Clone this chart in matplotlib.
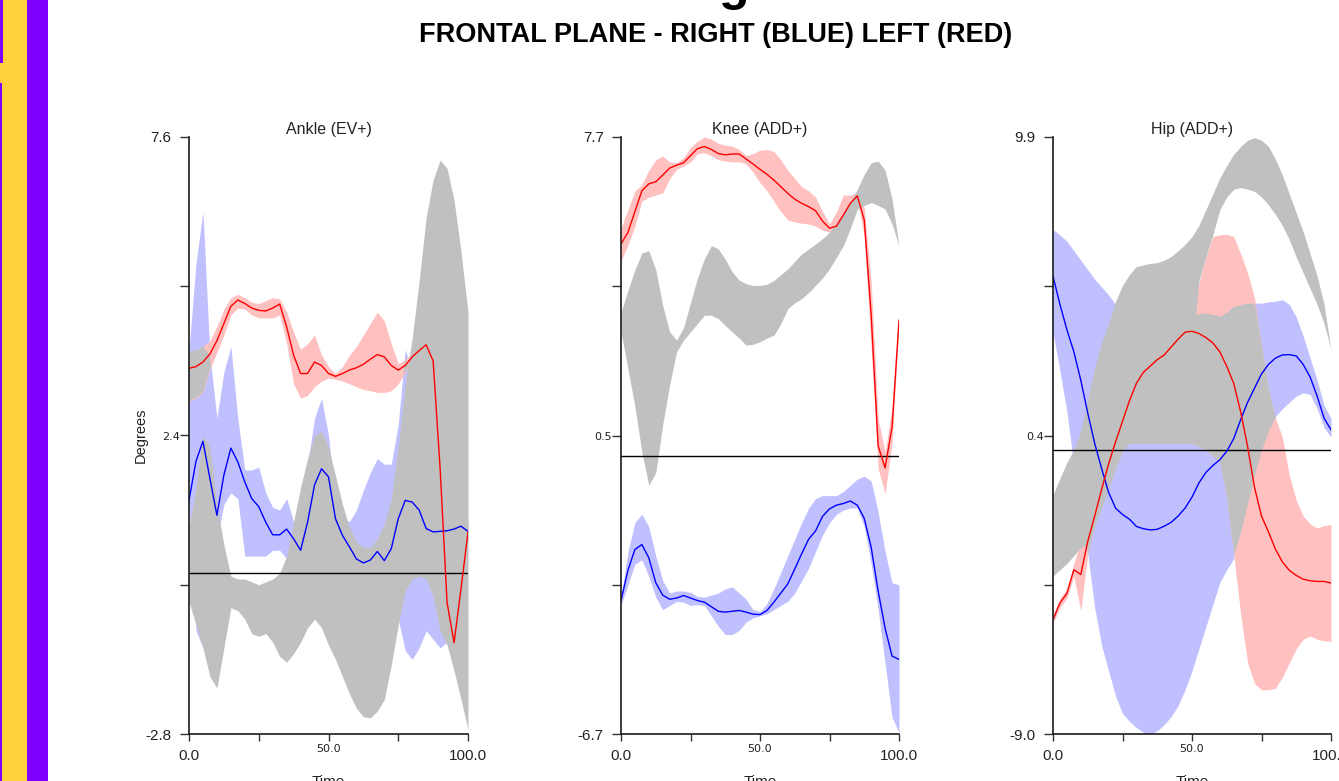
import numpy as np
import matplotlib
matplotlib.use('Agg')
import matplotlib.pyplot as plt
from matplotlib.patches import Rectangle

plt.rcParams['font.family'] = ['Liberation Sans', 'DejaVu Sans']

# % of gait cycle, sampled every 2.5 %
time = np.arange(0, 100.1, 2.5)

# ---------------- Ankle (EV+) ----------------
ankle_ylim = (-2.8, 7.6)
ankle_ylabels = ['-2.8', '2.4', '7.6']
ankle_right_mean = [1.27, 1.95, 2.30, 1.65, 1.01, 1.71, 2.18, 1.94, 1.59, 1.30,
                    1.16, 0.89, 0.67, 0.67, 0.77, 0.60, 0.40, 0.89, 1.54, 1.82,
                    1.68, 0.95, 0.66, 0.46, 0.25, 0.18, 0.23, 0.38, 0.22, 0.43,
                    0.95, 1.27, 1.24, 1.10, 0.78, 0.72, 0.73, 0.74, 0.77, 0.82,
                    0.73]
ankle_right_lo = [1.2, -1.0, -1.3, 0.6, 0.6, 1.2, 1.4, 1.3, 0.3, 0.3,
                  0.3, 0.3, 0.4, 0.4, 0.25, 0.0, -0.2, 0.2, 0.8, 1.2,
                  1.0, 0.5, 0.2, 0.1, -0.1, -0.1, 0.0, 0.05, -0.1, -0.4,
                  -0.8, -1.35, -1.5, -1.3, -1.0, -1.15, -1.3, -1.2, 0.3, 0.5,
                  0.55]
ankle_right_hi = [3.9, 5.4, 6.3, 3.8, 2.7, 3.5, 3.95, 2.7, 1.8, 1.8,
                  1.85, 1.4, 1.15, 1.1, 1.3, 0.9, 0.9, 1.9, 2.7, 3.05,
                  2.4, 1.3, 0.95, 0.9, 1.1, 1.45, 1.75, 2.0, 1.9, 1.9,
                  2.6, 3.9, 3.5, 3.0, 2.5, 2.0, 1.5, 1.2, 1.0, 1.0,
                  0.9]
ankle_left_mean = [3.57, 3.60, 3.68, 3.82, 4.05, 4.35, 4.65, 4.76, 4.70, 4.62,
                   4.58, 4.57, 4.62, 4.69, 4.29, 3.80, 3.48, 3.48, 3.68, 3.62,
                   3.48, 3.43, 3.48, 3.54, 3.58, 3.64, 3.73, 3.81, 3.77, 3.62,
                   3.54, 3.62, 3.77, 3.88, 3.98, 3.70, 1.83, -0.51, -1.21, -0.27,
                   0.72]
ankle_left_lo = [3.0, 3.05, 3.15, 3.55, 3.85, 4.15, 4.5, 4.62, 4.6, 4.5,
                 4.45, 4.45, 4.45, 4.5, 4.0, 3.3, 3.05, 3.1, 3.25, 3.35,
                 3.4, 3.38, 3.35, 3.3, 3.25, 3.2, 3.18, 3.15, 3.15, 3.18,
                 3.3, 3.5, 3.7, 3.8, 3.9, 3.4, 1.5, -1.0, -1.65, -0.5,
                 0.6]
ankle_left_hi = [3.86, 3.88, 3.95, 4.05, 4.3, 4.6, 4.8, 4.86, 4.8, 4.72,
                 4.7, 4.75, 4.8, 4.78, 4.55, 4.2, 3.9, 4.0, 4.15, 3.8,
                 3.6, 3.48, 3.6, 3.8, 3.95, 4.15, 4.35, 4.55, 4.4, 4.0,
                 3.65, 3.72, 3.85, 3.95, 4.05, 3.9, 2.2, -0.2, -1.0, 0.0,
                 0.85]
ankle_norm_lo = [-0.5, -0.9, -1.3, -1.8, -2.0, -1.3, -0.6, -0.65, -0.8, -1.05,
                 -1.1, -1.05, -1.2, -1.45, -1.55, -1.4, -1.2, -0.95, -0.8, -0.95,
                 -1.25, -1.5, -1.8, -2.1, -2.35, -2.5, -2.52, -2.4, -2.2, -1.6,
                 -0.9, -0.3, -0.1, -0.05, -0.1, -0.4, -1.0, -1.25, -1.7, -2.2,
                 -2.72]
ankle_norm_hi = [0.8, 1.5, 2.4, 2.2, 1.2, 0.5, -0.05, -0.1, -0.1, -0.15,
                 -0.2, -0.15, -0.1, 0.0, 0.3, 0.9, 1.5, 2.0, 2.4, 2.47,
                 2.2, 1.7, 1.2, 0.8, 0.55, 0.45, 0.45, 0.6, 0.85, 1.3,
                 2.2, 3.3, 4.1, 5.1, 6.2, 6.85, 7.2, 7.05, 6.5, 5.6,
                 4.55]

# ---------------- Knee (ADD+) ----------------
knee_ylim = (-6.7, 7.7)
knee_ylabels = ['-6.7', '0.5', '7.7']
knee_right_mean = [-3.48, -2.75, -2.25, -2.13, -2.45, -3.05, -3.35, -3.45, -3.42, -3.36,
                   -3.42, -3.48, -3.52, -3.63, -3.74, -3.76, -3.74, -3.72, -3.76, -3.81,
                   -3.82, -3.72, -3.52, -3.30, -3.08, -2.72, -2.35, -2.00, -1.80, -1.45,
                   -1.27, -1.18, -1.14, -1.08, -1.18, -1.50, -2.20, -3.25, -4.15, -4.82,
                   -4.90]
knee_right_lo = [-3.6, -3.1, -2.6, -2.5, -2.9, -3.4, -3.7, -3.6, -3.5, -3.52,
                 -3.6, -3.58, -3.6, -3.85, -4.1, -4.3, -4.3, -4.2, -4.0, -3.9,
                 -3.85, -3.8, -3.7, -3.6, -3.5, -3.3, -3.0, -2.7, -2.3, -1.9,
                 -1.6, -1.4, -1.3, -1.25, -1.25, -1.7, -2.6, -3.7, -5.0, -6.3,
                 -6.67]
knee_right_hi = [-3.4, -2.3, -1.6, -1.4, -1.7, -2.4, -3.0, -3.3, -3.25, -3.25,
                 -3.28, -3.38, -3.4, -3.35, -3.3, -3.2, -3.15, -3.3, -3.45, -3.7,
                 -3.75, -3.55, -3.2, -2.8, -2.4, -2.0, -1.6, -1.25, -1.02, -0.95,
                 -0.95, -0.95, -0.85, -0.7, -0.55, -0.48, -0.6, -1.35, -2.3, -3.05,
                 -3.1]
knee_left_mean = [5.12, 5.40, 5.90, 6.40, 6.57, 6.62, 6.78, 6.95, 7.02, 7.08,
                  7.25, 7.42, 7.47, 7.40, 7.30, 7.27, 7.29, 7.29, 7.17, 7.05,
                  6.92, 6.80, 6.66, 6.50, 6.34, 6.20, 6.10, 6.02, 5.92, 5.67,
                  5.50, 5.55, 5.82, 6.10, 6.28, 5.70, 3.40, 0.25, -0.28, 0.70,
                  3.28]
knee_left_lo = [4.7, 5.1, 5.55, 6.15, 6.25, 6.3, 6.35, 6.7, 6.92, 7.0,
                7.1, 7.3, 7.32, 7.25, 7.15, 7.12, 7.1, 7.1, 7.05, 6.85,
                6.6, 6.4, 6.15, 5.9, 5.7, 5.65, 5.62, 5.6, 5.55, 5.45,
                5.4, 5.45, 5.6, 5.95, 6.2, 5.3, 2.6, -0.3, -0.9, 0.3,
                3.2]
knee_left_hi = [5.5, 5.95, 6.4, 6.55, 6.9, 7.15, 7.24, 7.1, 7.08, 7.2,
                7.45, 7.6, 7.7, 7.65, 7.55, 7.5, 7.48, 7.4, 7.25, 7.3,
                7.38, 7.4, 7.35, 7.15, 6.9, 6.7, 6.5, 6.4, 6.25, 5.9,
                5.6, 5.9, 6.3, 6.3, 6.35, 6.0, 4.2, 0.9, 0.1, 1.2,
                3.35]
knee_norm_lo = [3.0, 2.1, 1.2, 0.1, -0.7, -0.4, 0.76, 1.72, 2.52, 2.8,
                3.0, 3.2, 3.4, 3.4, 3.32, 3.15, 3.0, 2.85, 2.68, 2.7,
                2.76, 2.85, 2.92, 3.2, 3.56, 3.7, 3.8, 3.95, 4.12, 4.3,
                4.52, 4.8, 5.08, 5.5, 5.96, 6.05, 6.12, 6.05, 5.96, 5.6,
                5.08]
knee_norm_hi = [3.48, 4.0, 4.5, 4.9, 4.96, 4.5, 3.64, 3.0, 2.8, 3.1,
                3.7, 4.3, 4.76, 5.08, 5.0, 4.75, 4.45, 4.25, 4.16, 4.12,
                4.12, 4.15, 4.24, 4.38, 4.52, 4.7, 4.88, 5.0, 5.12, 5.25,
                5.4, 5.62, 5.86, 6.15, 6.44, 6.8, 7.08, 7.12, 6.9, 6.2,
                5.08]

# ---------------- Hip (ADD+) ----------------
hip_ylim = (-9.0, 9.9)
hip_ylabels = ['-9.0', '0.4', '9.9']
hip_right_mean = [5.49, 4.60, 3.80, 3.10, 2.20, 1.16, 0.20, -0.60, -1.35, -1.85,
                  -2.05, -2.20, -2.43, -2.50, -2.54, -2.52, -2.42, -2.30, -2.10, -1.85,
                  -1.50, -1.05, -0.72, -0.50, -0.32, -0.05, 0.35, 0.95, 1.50, 1.95,
                  2.40, 2.70, 2.90, 3.00, 3.01, 2.97, 2.70, 2.30, 1.70, 1.00,
                  0.63]
hip_right_lo = [3.7, 2.5, 1.2, -0.5, -2.0, -3.3, -5.0, -6.2, -7.0, -7.8,
                -8.35, -8.6, -8.8, -8.95, -9.0, -8.9, -8.7, -8.45, -8.1, -7.6,
                -7.0, -6.3, -5.6, -4.9, -4.2, -3.8, -3.45, -2.6, -1.7, -0.8,
                0.0, 0.6, 1.05, 1.3, 1.5, 1.7, 1.8, 1.75, 1.3, 0.7,
                0.4]
hip_right_hi = [6.97, 6.8, 6.6, 6.3, 6.0, 5.7, 5.4, 5.15, 4.9, 4.6,
                4.3, 4.3, 4.3, 4.3, 4.3, 4.3, 4.3, 4.3, 4.3, 4.3,
                4.3, 4.3, 4.33, 4.28, 4.23, 4.35, 4.54, 4.6, 4.64, 4.64,
                4.64, 4.68, 4.7, 4.75, 4.6, 4.2, 3.6, 2.9, 2.2, 1.4,
                1.0]
hip_left_mean = [-5.38, -4.85, -4.55, -3.80, -3.95, -2.90, -2.10, -1.25, -0.45, 0.25,
                 0.90, 1.55, 2.10, 2.45, 2.65, 2.85, 3.00, 3.25, 3.50, 3.72,
                 3.75, 3.68, 3.55, 3.38, 3.10, 2.64, 2.10, 1.20, 0.10, -1.20,
                 -2.10, -2.60, -3.15, -3.55, -3.82, -3.98, -4.10, -4.15, -4.17, -4.17,
                 -4.22]
hip_left_lo = [-5.5, -5.0, -4.7, -4.0, -5.1, -3.3, -2.4, -1.8, -1.2, -0.6,
               0.0, 0.2, 0.2, 0.2, 0.2, 0.2, 0.2, 0.2, 0.2, 0.2,
               0.2, 0.1, 0.0, -0.2, -0.4, -1.5, -3.3, -5.2, -6.75, -7.4,
               -7.6, -7.6, -7.55, -7.2, -6.75, -6.3, -6.0, -5.9, -6.0, -6.05,
               -6.07]
hip_left_hi = [-5.25, -4.7, -4.4, -3.6, -2.9, -2.5, -1.8, -0.9, 0.0, 1.0,
               1.8, 2.6, 3.2, 3.5, 3.7, 3.9, 4.0, 4.1, 4.15, 4.2,
               4.35, 5.3, 6.1, 6.75, 6.8, 6.82, 6.75, 6.2, 5.6, 4.8,
               3.3, 1.9, 1.0, 0.4, -0.8, -1.6, -2.1, -2.35, -2.48, -2.4,
               -2.37]
hip_norm_lo = [-4.0, -3.8, -3.6, -3.35, -3.1, -3.0, -2.4, -1.8, -1.2, -0.6,
               0.0, 0.3, 0.4, 0.4, 0.4, 0.4, 0.4, 0.4, 0.5, 1.5,
               3.0, 5.35, 6.1, 6.8, 7.6, 8.0, 8.25, 8.3, 8.25, 8.18,
               8.0, 7.75, 7.45, 7.1, 6.65, 6.1, 5.6, 5.1, 4.6, 4.0,
               3.17]
hip_norm_hi = [-1.43, -0.9, -0.4, 0.0, 0.6, 1.6, 2.6, 3.4, 4.0, 4.7,
               5.2, 5.55, 5.8, 5.85, 5.9, 5.92, 6.0, 6.12, 6.3, 6.5,
               6.75, 7.1, 7.6, 8.1, 8.6, 9.0, 9.35, 9.6, 9.8, 9.88,
               9.8, 9.6, 9.2, 8.7, 8.1, 7.5, 6.9, 6.2, 5.5, 4.6,
               3.17]

BLUE_BAND = '#C0C0FF'
RED_BAND = '#FFC0C0'
GREY_BAND = '#C0C0C0'


def panel(ax, title, ylim, ylabels, r_mean, r_lo, r_hi, l_mean, l_lo, l_hi, n_lo, n_hi):
    r_lo, r_hi, l_lo, l_hi = map(np.asarray, (r_lo, r_hi, l_lo, l_hi))
    ax.fill_between(time, r_lo, r_hi, color=BLUE_BAND, lw=0)
    ax.fill_between(time, l_lo, l_hi, color=RED_BAND, lw=0)
    ax.fill_between(time, n_lo, n_hi, color=GREY_BAND, lw=0)
    # where the right and left bands overlap the old plotter shows grey
    both_lo = np.maximum(r_lo, l_lo)
    both_hi = np.minimum(r_hi, l_hi)
    ax.fill_between(time, both_lo, both_hi, where=both_hi > both_lo,
                    interpolate=True, color=GREY_BAND, lw=0)
    ax.axhline(0, color='black', lw=1.0)
    ax.plot(time, r_mean, color='#0000FF', lw=1.0, solid_joinstyle='round')
    ax.plot(time, l_mean, color='#FF0000', lw=1.0, solid_joinstyle='round')

    ax.set_xlim(0, 100)
    ax.set_ylim(*ylim)
    for side in ['top', 'right']:
        ax.spines[side].set_visible(False)
    for side in ['left', 'bottom']:
        ax.spines[side].set_linewidth(1.2)
        ax.spines[side].set_color('#1a1a1a')
    ax.set_xticks([0, 25, 50, 75, 100])
    ax.set_xticklabels(['0.0', '', '50.0', '', '100.0'])
    ax.set_yticks(np.linspace(ylim[0], ylim[1], 5))
    ax.set_yticklabels([ylabels[0], '', ylabels[1], '', ylabels[2]])
    ax.tick_params(axis='x', direction='out', length=5, width=1,
                   color='#333333', labelcolor='#222222')
    ax.tick_params(axis='y', direction='out', length=6.5, width=1,
                   color='#333333', labelcolor='#222222')
    for i, tick in enumerate(ax.xaxis.get_major_ticks()):
        if i == 2:
            tick.label1.set_fontfamily('DejaVu Sans')
            tick.label1.set_fontsize(8)
            tick.set_pad(2.5)
        else:
            tick.label1.set_fontsize(11)
            tick.set_pad(5.5)
    for i, tick in enumerate(ax.yaxis.get_major_ticks()):
        if i == 2:
            tick.label1.set_fontfamily('DejaVu Sans')
            tick.label1.set_fontsize(8)
            tick.set_pad(0.3)
        else:
            tick.label1.set_fontsize(11)
            tick.set_pad(6)
    ax.set_title(title, fontsize=11.5, pad=2, color='#222222')
    ax.set_xlabel('Time', fontsize=11, color='#222222')
    ax.xaxis.set_label_coords(0.5, -0.069)


W, H = 1339, 781
fig = plt.figure(figsize=(W / 100, H / 100), dpi=100)

# side stripes of the report page
fig.add_artist(Rectangle((0, 0), 48 / W, 1, transform=fig.transFigure, color='#7F00FF', lw=0))
fig.add_artist(Rectangle((2 / W, 0), 25 / W, 1, transform=fig.transFigure, color='#FFD23C', lw=0))
fig.add_artist(Rectangle((0, 1 - 83 / H), 27 / W, 20 / H, transform=fig.transFigure, color='#FFD23C', lw=0))
fig.add_artist(Rectangle((0, 1 - 63 / H), 3 / W, 63 / H, transform=fig.transFigure, color='#7F00FF', lw=0))

bottom, height = 47 / H, 597 / H
ax1 = fig.add_axes([189 / W, bottom, 279 / W, height])
ax2 = fig.add_axes([621 / W, bottom, 278 / W, height])
ax3 = fig.add_axes([1053 / W, bottom, 278 / W, height])

panel(ax1, 'Ankle (EV+)', ankle_ylim, ankle_ylabels,
      ankle_right_mean, ankle_right_lo, ankle_right_hi,
      ankle_left_mean, ankle_left_lo, ankle_left_hi,
      ankle_norm_lo, ankle_norm_hi)
panel(ax2, 'Knee (ADD+)', knee_ylim, knee_ylabels,
      knee_right_mean, knee_right_lo, knee_right_hi,
      knee_left_mean, knee_left_lo, knee_left_hi,
      knee_norm_lo, knee_norm_hi)
panel(ax3, 'Hip (ADD+)', hip_ylim, hip_ylabels,
      hip_right_mean, hip_right_lo, hip_right_hi,
      hip_left_mean, hip_left_lo, hip_left_hi,
      hip_norm_lo, hip_norm_hi)

ax1.set_ylabel('Degrees', fontsize=10.5, color='#222222')
ax1.yaxis.set_label_coords(-0.147, 0.5)

# page title (mostly above the visible area) and subtitle
fig.text(734 / W, 1.0, 'g', fontsize=36, fontweight='bold', ha='center', va='baseline')
fig.text(716 / W, 1 - 35 / H, 'FRONTAL PLANE - RIGHT (BLUE) LEFT (RED)',
         fontsize=19.5, fontweight='bold', ha='center', va='center')

fig.savefig('out.png', dpi=100)
